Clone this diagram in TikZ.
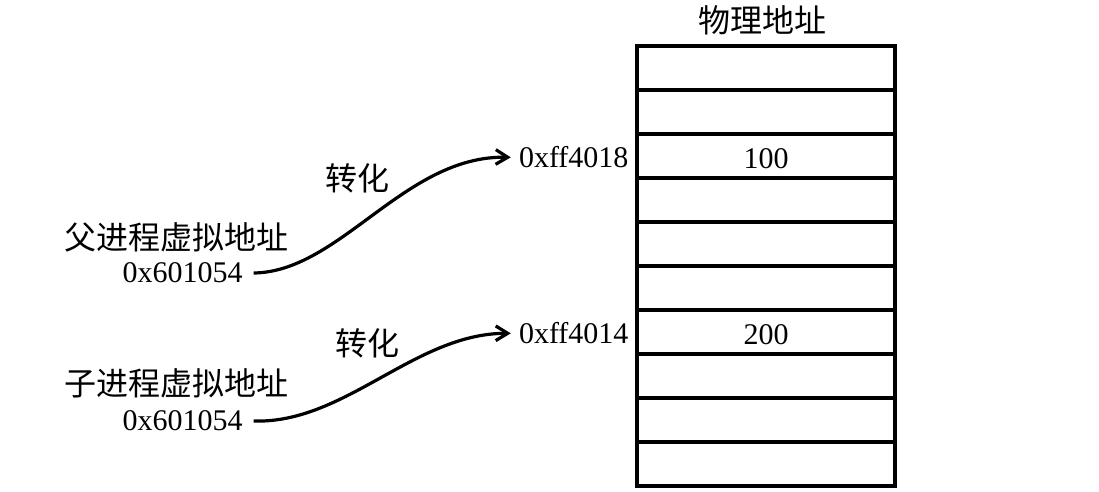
\documentclass[tikz,border=0pt]{standalone}
\usepackage{fontspec}
\setmainfont{Liberation Serif}
\newfontfamily\cjk{Noto Sans CJK SC}
\usetikzlibrary{positioning,arrows.meta}

\tikzset{
  cell/.style={draw,line width=2.4pt,minimum width=193.5pt,minimum height=33pt,inner sep=0pt,font=\fontsize{22.5}{27}\selectfont},
  addr/.style={inner sep=0pt,font=\fontsize{22.5}{27}\selectfont},
  zh/.style={inner sep=0pt,font=\cjk\fontsize{24}{28}\selectfont},
  conv/.style={line width=2.4pt,-{Straight Barb[length=9pt,width=11pt]}}
}

\begin{document}
\begin{tikzpicture}[x=0.75pt,y=-0.75pt]
  \useasboundingbox (0,0) rectangle (1099,492);

  % physical memory
  \foreach \i in {0,...,9}
    \node[cell] (c\i) at (766,68+44*\i) {};
  \node[addr,yshift=-2pt] at (c2) {100};
  \node[addr,yshift=-2pt] at (c6) {200};
  \node[zh] (phys) at (762,20) {物理地址};

  \node[addr,left=5pt of c2,yshift=-1pt] (pa1) {0xff4018};
  \node[addr,left=5pt of c6,yshift=-1pt] (pa2) {0xff4014};

  % virtual addresses
  \node[zh] (par) at (176,237) {父进程虚拟地址};
  \node[addr,anchor=east] (va1) at (243,273) {0x601054};
  \node[zh] (chi) at (176,383) {子进程虚拟地址};
  \node[addr,anchor=east] (va2) at (243,421) {0x601054};

  \draw[conv] ([xshift=8pt]va1.east) .. controls (340,272) and (405,155) .. ([xshift=-6pt]pa1.west);
  \draw[conv] ([xshift=8pt]va2.east) .. controls (345,424) and (415,333) .. ([xshift=-6pt]pa2.west);

  \node[zh] (t1) at (357,178) {转化};
  \node[zh] (t2) at (367,343) {转化};
\end{tikzpicture}
\end{document}
